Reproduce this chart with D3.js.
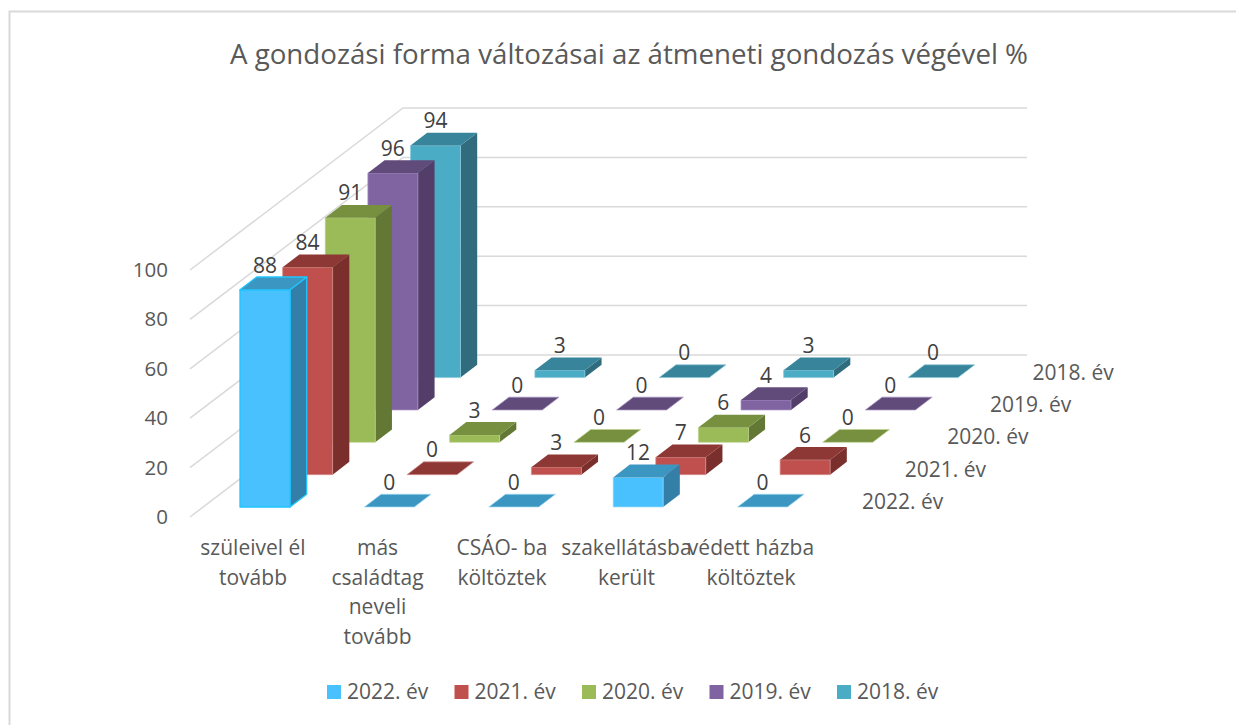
<!DOCTYPE html>
<html><head><meta charset="utf-8">
<script src="https://cdn.jsdelivr.net/npm/d3@7"></script>
<style>
html,body{margin:0;padding:0;background:#fff}
svg{display:block}
text{font-family:"Open Sans",sans-serif}
</style></head><body><svg id="c" width="1236" height="725"></svg>
<script>
const titleText = "A gondozási forma változásai az átmeneti gondozás végével %";
const categories = [["szüleivel él","tovább"],["más","családtag","neveli","tovább"],["CSÁO- ba","költöztek"],["szakellátásba","került"],["védett házba","költöztek"]];
const seriesNames = ["2022. év","2021. év","2020. év","2019. év","2018. év"];
const v2022 = [88,0,0,12,0];
const v2021 = [84,0,3,7,6];
const v2020 = [91,3,0,6,0];
const v2019 = [96,0,0,4,0];
const v2018 = [94,3,0,3,0];
const seriesValues = [v2022,v2021,v2020,v2019,v2018];
const yTicks = [0,20,40,60,80,100];
const frontColors = ["#4AC1FF","#C0504D","#9BBB59","#8064A2","#4BACC6"];
const topColors = ["#3C96C2","#8E3836","#76903F","#614B7B","#38849A"];
const sideColors = ["#337FA8","#7A2F2D","#647835","#533E6A","#306C7E"];
const edgeColors = ["#A5DDF7","#D68F8C","#BDD48F","#A890C2","#86C9DA"];

const svg = d3.select("#c");
const idx = d3.range(5);
// projection scales
const catX = d3.scaleLinear().domain([0,4]).range([240,737.5]);
const depthX = d3.scaleLinear().domain([0,4]).range([0,170.5]);
const depthY = d3.scaleLinear().domain([0,4]).range([507,377.6]);
const valH = d3.scaleLinear().domain([0,100]).range([0,246.8]);
const barW = 50, dx = 16.7, dy = -12.8;
// axis scales
const yAxisScale = d3.scaleLinear().domain([0,100]).range([517,270]);
const backY = d3.scaleLinear().domain([0,100]).range([355,108]);
const labelX = d3.scalePoint().domain(idx).range([253,751]);
const wall = {x0:190,x1:403,x2:1027};

svg.append("rect").attr("x",9.5).attr("y",11.5).attr("width",1240).attr("height",730)
  .attr("fill","#fff").attr("stroke","#D9D9D9").attr("stroke-width",2);

svg.append("text").attr("x",629).attr("y",64).attr("text-anchor","middle")
  .attr("font-size",27.7).attr("fill","#595959").text(titleText);

// gridlines
svg.append("g").selectAll("path").data(yTicks).join("path")
  .attr("d",t=>d3.line()([[wall.x0,yAxisScale(t)],[wall.x1,backY(t)],[wall.x2,backY(t)]]))
  .attr("fill","none").attr("stroke","#D9D9D9").attr("stroke-width",1.5);

// y axis
const yAxis = svg.append("g").attr("transform","translate(168,0)")
  .call(d3.axisLeft(yAxisScale).tickValues(yTicks).tickSize(0).tickPadding(0));
yAxis.select(".domain").remove();
yAxis.selectAll("text").attr("font-size",20.5).attr("font-family","'Open Sans',sans-serif").attr("fill","#595959");

// bars: back series first
const barsG = svg.append("g");
const labels = [];
[...idx].reverse().forEach(s=>{
  idx.forEach(c=>{
    const v = seriesValues[s][c];
    const xl = catX(c)+depthX(s), xr = xl+barW, yb = depthY(s), yt = yb-valH(v);
    const bright = s===0 && c===0;
    const g = barsG.append("g").attr("stroke",bright?"#1FC5FF":edgeColors[s]).attr("stroke-width",bright?1.3:0.7).attr("stroke-linejoin","round");
    if(v>0){
      g.append("path").attr("d",d3.line()([[xr,yb],[xr+dx,yb+dy],[xr+dx,yt+dy],[xr,yt]])+"Z").attr("fill",sideColors[s]).attr("stroke",bright?null:"none");
      g.append("path").attr("d",d3.line()([[xl,yb],[xr,yb],[xr,yt],[xl,yt]])+"Z").attr("fill",frontColors[s]);
    }
    g.append("path").attr("d",d3.line()([[xl,yt],[xr,yt],[xr+dx,yt+dy],[xl+dx,yt+dy]])+"Z").attr("fill",topColors[s]).attr("stroke",bright||v===0?null:"none");
    labels.push({v,x:(xl+xr)/2,y:yt+dy-4.5});
  });
});
svg.append("g").selectAll("text").data(labels).join("text")
  .attr("x",d=>d.x).attr("y",d=>d.y).attr("text-anchor","middle")
  .attr("font-size",21).attr("fill","#404040").text(d=>d.v);

// depth labels
svg.append("g").selectAll("text").data(seriesNames).join("text")
  .attr("x",(d,i)=>862+depthX(i)).attr("y",(d,i)=>depthY(i)+2)
  .attr("font-size",21).attr("fill","#595959").text(d=>d);

// category labels
const catG = svg.append("g").selectAll("g").data(categories).join("g");
catG.each(function(lines,c){
  d3.select(this).selectAll("text").data(lines).join("text")
    .attr("text-anchor","middle").attr("font-size",21).attr("fill","#595959")
    .attr("x",labelX(c)).attr("y",(d,i)=>555+i*29.5).text(d=>d);
});

// legend
const legendX = d3.scalePoint().domain(idx).range([327,837]);
const leg = svg.append("g").selectAll("g").data(seriesNames).join("g")
  .attr("transform",(d,i)=>`translate(${legendX(i)},0)`);
leg.append("rect").attr("y",685).attr("width",14).attr("height",14).attr("fill",(d,i)=>frontColors[i]);
leg.append("text").attr("x",20).attr("y",699).attr("font-size",21).attr("fill","#595959").text(d=>d);
</script></body></html>
